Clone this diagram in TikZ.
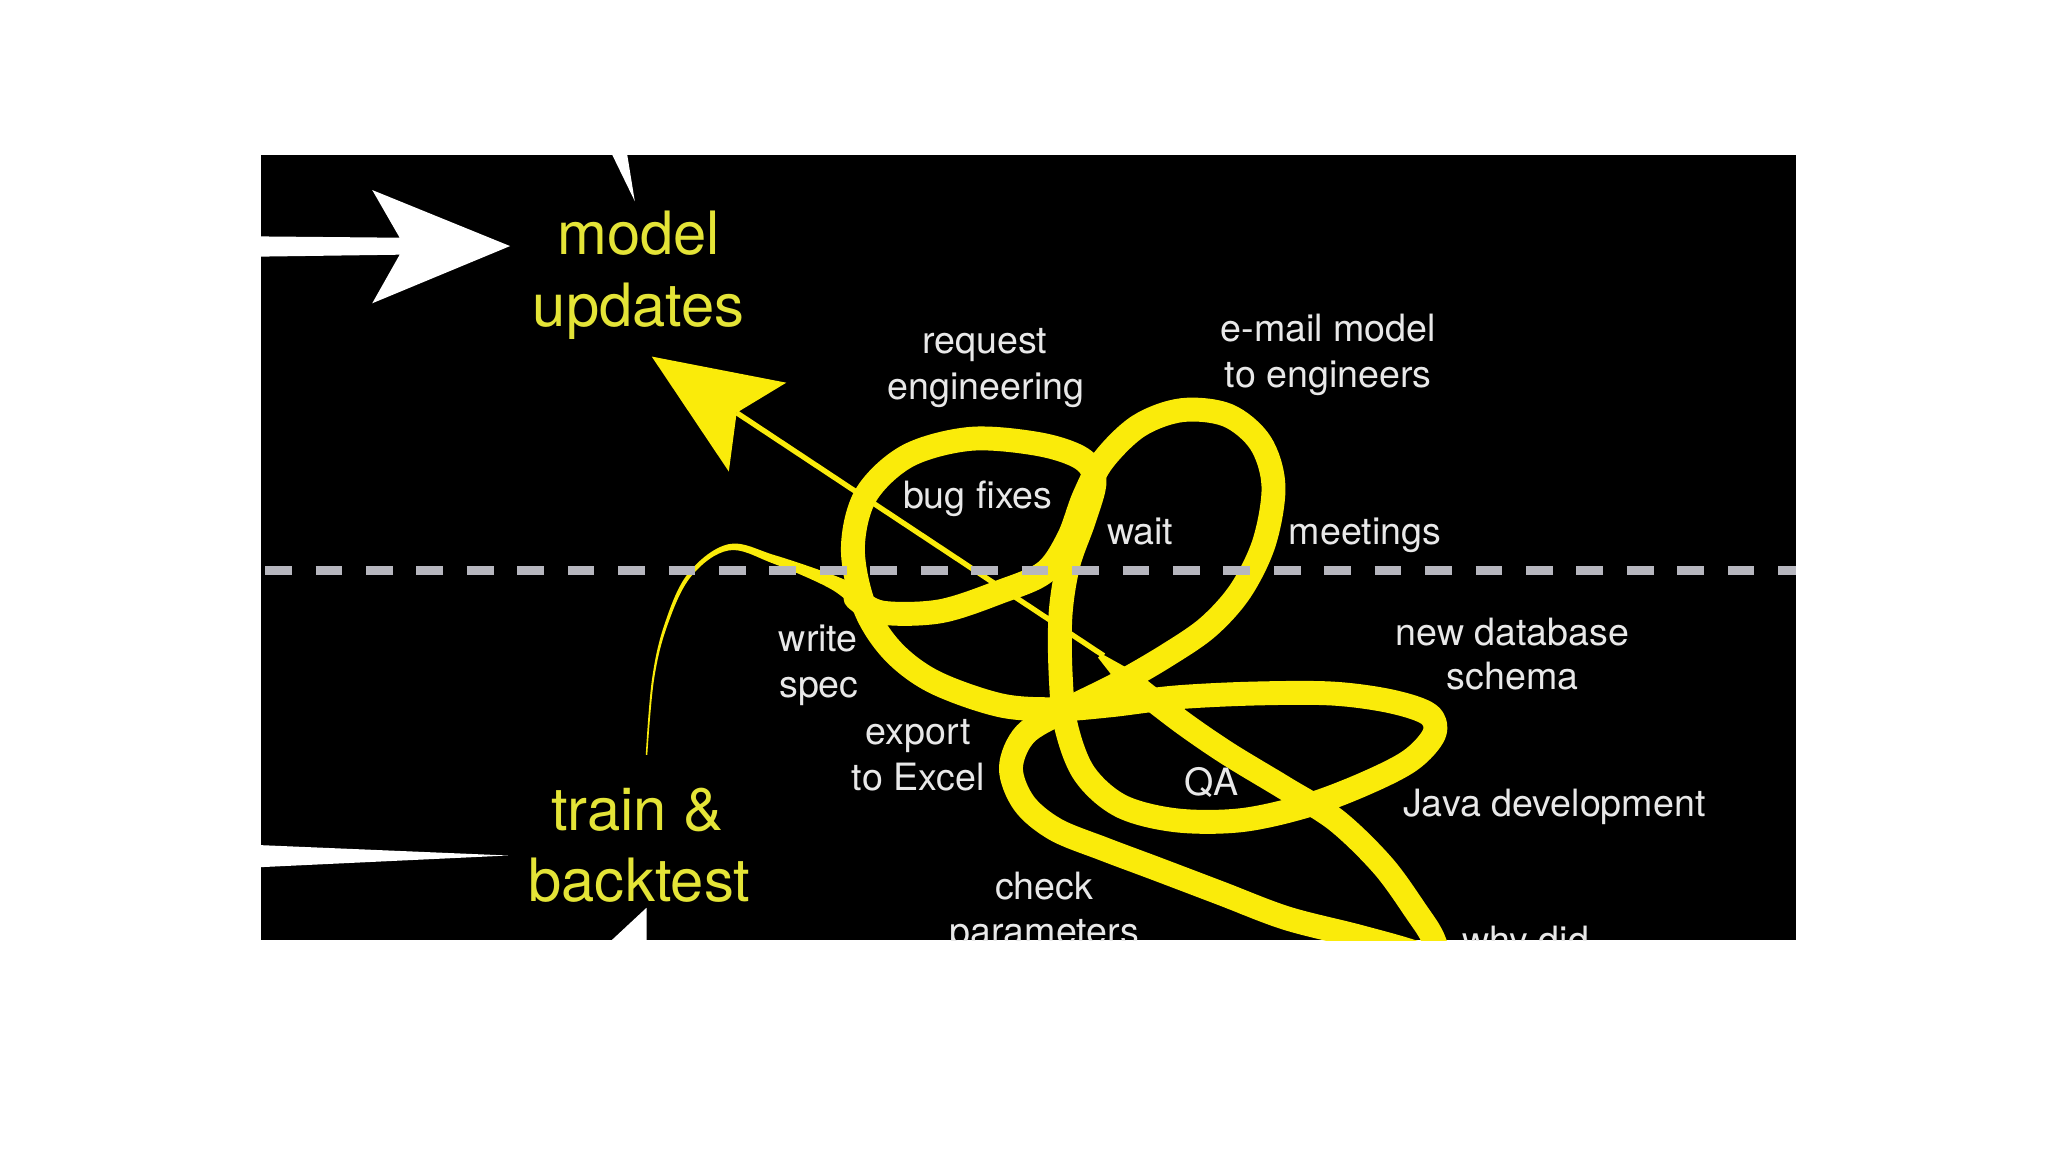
\documentclass[tikz,border=0pt]{standalone}
\usepackage{fontspec}
\setmainfont{TeX Gyre Heros}
\definecolor{loopyellow}{RGB}{250,235,10}
\definecolor{textyellow}{RGB}{228,228,55}
\definecolor{labelwhite}{RGB}{232,232,232}
\definecolor{dashgray}{RGB}{182,182,190}
\begin{document}
\begin{tikzpicture}[x=0.0130612cm,y=-0.0130612cm,
  loopband/.style={draw=loopyellow,line width=6.8pt,line cap=round,line join=round},
  lbl/.style={text=labelwhite,font=\fontsize{10.7}{13}\selectfont,anchor=base,inner sep=0pt},
  big/.style={text=textyellow,font=\fontsize{17}{20.8}\selectfont,anchor=base,inner sep=0pt},
  whiteshape/.style={fill=white,draw=none}]
\useasboundingbox (0,0) rectangle (1568,882);
\fill[white] (0,0) rectangle (1568,882);
\fill[black] (200,119) rectangle (1375,720);
\begin{scope}
\clip (200,119) rectangle (1375,720);
% white arrows
\fill[whiteshape] (198,181) -- (306,182) -- (285,145.5) -- (390.5,188.4) -- (285,232.2) -- (306,195) -- (198,196.5) -- cycle;
\fill[whiteshape] (468,117) -- (480,117) -- (486,154) -- cycle;
\fill[whiteshape] (198,647) -- (389,655) -- (198,664) -- cycle;
\fill[whiteshape] (495,695) -- (495,722) -- (466,722) -- cycle;
% thin tapered start of the tangled path
\fill[loopyellow] plot[smooth,tension=0.6] coordinates {(494.4,578) (499.2,520) (508.9,477.6) (527,438.8) (558,416.6) (592.9,425) (639.8,441) (666.5,453.3)}
  -- plot[smooth,tension=0.6] coordinates {(657.5,468.7) (636.2,451) (591.1,431.1) (558,421.4) (529.2,441.2) (511.1,478.4) (500.8,520) (495.6,578)} -- cycle;
% main tangled band
\draw[loopband] plot[smooth,tension=0.55] coordinates {(655,458) (675,469) (720,468) (766,453) (800,438) (818,412) (830,380) (845,352) (872,326) (905,314) (940,318) (965,339) (975,372) (968,415) (950,452) (925,480) (893,502) (855,524) (815,544) (785,562) (774,588) (784,615) (808,635) (845,650) (885,665) (935,684) (985,703) (1040,717) (1085,730) (1105,742)};
\draw[loopband] plot[smooth,tension=0.55] coordinates {(1105,742) (1097,718) (1085,699) (1059,663) (1023,628) (983,603) (940,577) (905,553) (870,526)};
% closed loop: ring, upright band and lens
\draw[loopband] plot[smooth cycle,tension=0.55] coordinates {(743,336) (795,340) (828,351) (838,368) (830,398) (818,432) (812,470) (812,515) (816,555) (830,592) (858,617) (900,628) (950,628) (1000,617) (1045,600) (1080,582) (1098,562) (1094,547) (1065,537) (1020,531) (960,531) (900,534) (850,540) (810,543) (766,540) (715,522) (683,498) (662,465) (653,420) (663,379) (695,349)};
% thin straight end and arrowhead
\fill[loopyellow] (876.2,518.8) -- (843.3,500.5) -- (840.7,503.5) -- (863.8,533.2) -- cycle;
\draw[loopyellow,line width=1.5pt] (564,316) -- (845,502);
\fill[loopyellow] (499,273) -- (602,293) -- (564,316) -- (558,361) -- cycle;
% dashed divider
\draw[dashgray,line width=2.6pt,dash pattern=on 7.6pt off 6.75pt] (203,437) -- (1380,437);
% labels
\node[lbl] (req1) at (754,271) {request};
\node[lbl] (req2) at (755,306) {engineering};
\node[lbl] (em1) at (1017,261.5) {e-mail model};
\node[lbl] (em2) at (1017,296.5) {to engineers};
\node[lbl] (bug) at (748.6,389) {bug fixes};
\node[lbl] (wait) at (873,417) {wait};
\node[lbl] (meet) at (1045,416.5) {meetings};
\node[lbl] (db1) at (1158,494) {new database};
\node[lbl] (db2) at (1158,528) {schema};
\node[lbl] (ws1) at (626.5,499) {write};
\node[lbl] (ws2) at (627,534) {spec};
\node[lbl] (ex1) at (703,570) {export};
\node[lbl] (ex2) at (703,605) {to Excel};
\node[lbl] (qa) at (927.7,608.7) {QA};
\node[lbl] (java) at (1190,625) {Java development};
\node[lbl] (chk1) at (799.5,689) {check};
\node[lbl] (chk2) at (799.5,723) {parameters};
\node[lbl] (why) at (1168,730) {why did};
\node[big] (mu1) at (489,195) {model};
\node[big] (mu2) at (489,250) {updates};
\node[big] (tb1) at (488,635.5) {train \&};
\node[big] (tb2) at (489.5,690) {backtest};
\end{scope}
\end{tikzpicture}
\end{document}
